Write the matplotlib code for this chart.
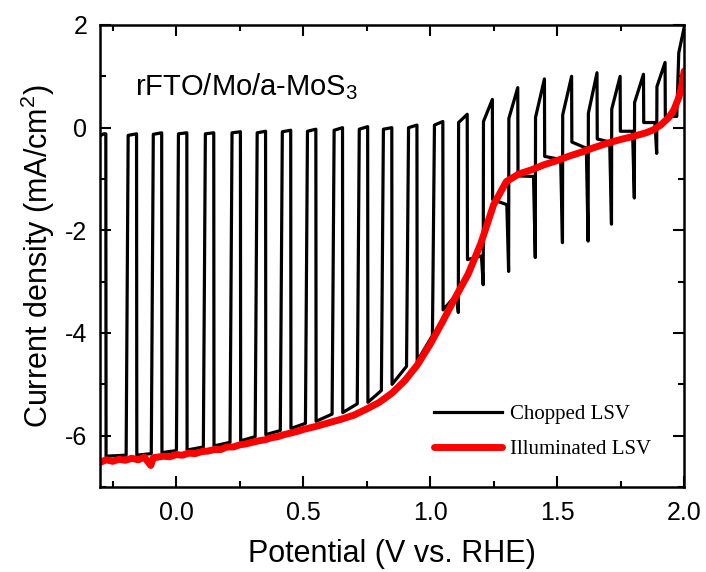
import matplotlib
matplotlib.use("Agg")
import matplotlib.pyplot as plt
from matplotlib.ticker import MultipleLocator, FormatStrFormatter

plt.rcParams['font.family'] = ['Liberation Sans', 'DejaVu Sans']
plt.rcParams['mathtext.fontset'] = 'custom'
plt.rcParams['mathtext.rm'] = 'Liberation Sans'
plt.rcParams['mathtext.it'] = 'Liberation Sans:italic'
plt.rcParams['axes.unicode_minus'] = False

# illuminated LSV (continuous light)
illum_v = [-0.30, -0.275, -0.25, -0.225, -0.20, -0.175, -0.15, -0.125, -0.10, -0.09,
           -0.075, -0.05, -0.025, 0.0, 0.025, 0.05, 0.075, 0.10, 0.125, 0.15,
           0.175, 0.20, 0.225, 0.25, 0.275, 0.30, 0.325, 0.35, 0.375, 0.40,
           0.425, 0.45, 0.475, 0.50, 0.55, 0.60, 0.65, 0.70, 0.75, 0.80,
           0.85, 0.90, 0.95, 1.00, 1.05, 1.10, 1.15, 1.20, 1.25, 1.30,
           1.35, 1.40, 1.45, 1.50, 1.55, 1.60, 1.65, 1.70, 1.75, 1.80,
           1.85, 1.88, 1.91, 1.94, 1.96, 1.98, 1.99, 2.00]
illum_j = [-6.52, -6.47, -6.50, -6.46, -6.48, -6.44, -6.47, -6.42, -6.58, -6.43,
           -6.42, -6.40, -6.41, -6.37, -6.38, -6.34, -6.35, -6.31, -6.30, -6.27,
           -6.27, -6.22, -6.22, -6.18, -6.16, -6.13, -6.10, -6.08, -6.04, -6.02,
           -5.98, -5.95, -5.92, -5.88, -5.82, -5.75, -5.68, -5.60, -5.48, -5.35,
           -5.17, -4.93, -4.62, -4.22, -3.77, -3.30, -2.85, -2.25, -1.50, -1.05,
           -0.90, -0.82, -0.72, -0.64, -0.55, -0.47, -0.38, -0.30, -0.23, -0.17,
           -0.10, -0.04, 0.06, 0.20, 0.35, 0.60, 0.80, 1.10]

# chopped LSV, one entry per dark pulse (light off -> light on)
pulse_off_v = [-0.189, -0.090, 0.009, 0.115, 0.220, 0.319, 0.418, 0.517, 0.622, 0.721,
               0.816, 0.915, 1.017, 1.112, 1.210, 1.310, 1.415, 1.522, 1.623, 1.715,
               1.805, 1.893, 1.979]
pulse_on_v = [-0.156, -0.057, 0.042, 0.148, 0.253, 0.352, 0.451, 0.550, 0.655, 0.754,
              0.849, 0.948, 1.050, 1.146, 1.245, 1.345, 1.450, 1.557, 1.657, 1.748,
              1.840, 1.925, 2.000]
dark_start_j = [-0.15, -0.13, -0.12, -0.12, -0.10, -0.10, -0.08, -0.07, -0.05, -0.03,
                -0.03, 0.00, 0.05, 0.10, 0.12, 0.18, 0.20, 0.25, 0.28, 0.36,
                0.49, 0.80, 1.46]
dark_end_j = [-0.12, -0.10, -0.10, -0.10, -0.08, -0.07, -0.05, -0.03, 0.00, 0.02,
              0.00, 0.05, 0.12, 0.26, 0.55, 0.78, 0.95, 1.00, 1.07, 1.00,
              1.04, 1.27, 1.95]
# light level at the end of the light period before each pulse
light_before_j = [-6.38, -6.35, -6.29, -6.22, -6.13, -6.02, -5.90, -5.76, -5.58, -5.38,
                  -5.12, -4.65, -4.05, -3.25, -2.50, -1.50, -0.95, -0.62, -0.40, -0.28,
                  -0.07, 0.10, 0.22]
# light level right after each pulse (light switched on)
light_after_j = [-6.38, -6.33, -6.28, -6.20, -6.10, -5.98, -5.86, -5.72, -5.55, -5.35,
                 -5.00, -4.55, -3.55, -2.57, -1.40, -0.94, -0.56, -0.28, -0.22, -0.07,
                 0.10, 0.22, 1.95]
# cathodic transient just before light off (None = no spike)
spike_j = [None, None, None, None, None, None, None, None, None, None,
           None, None, None, -3.60, -3.06, -2.80, -2.53, -2.24, -2.21, -1.88,
           -1.37, -0.50, None]

# first (partial) dark period at the start of the scan
start_v = [-0.300, -0.285, -0.277]
start_j = [-0.16, -0.12, -0.12]
start_light_j = -6.40

chop_v = list(start_v) + [start_v[-1] + 0.001]
chop_j = list(start_j) + [start_light_j]
for k in range(len(pulse_off_v)):
    chop_v.append(pulse_off_v[k] - 0.008)
    chop_j.append(light_before_j[k])
    if spike_j[k] is not None:
        chop_v.append(pulse_off_v[k] - 0.001)
        chop_j.append(spike_j[k])
    chop_v.append(pulse_off_v[k])
    chop_j.append(dark_start_j[k])
    chop_v.append(pulse_on_v[k])
    chop_j.append(dark_end_j[k])
    if k < len(pulse_off_v) - 1:
        chop_v.append(pulse_on_v[k] + 0.001)
        chop_j.append(light_after_j[k])

fig = plt.figure(figsize=(7.06, 5.72), dpi=100)
ax = fig.add_axes([0.1416, 0.1486, 0.8274, 0.8077])

ax.plot(chop_v, chop_j, color='black', lw=2.3, solid_joinstyle='round',
        label='Chopped LSV')
ax.plot(illum_v, illum_j, color='#ff0000', lw=5.0, solid_joinstyle='round',
        solid_capstyle='round', label='Illuminated LSV')

ax.set_xlim(-0.3, 2.0)
ax.set_ylim(-7, 2)
ax.xaxis.set_major_locator(MultipleLocator(0.5))
ax.xaxis.set_minor_locator(MultipleLocator(0.25))
ax.yaxis.set_major_locator(MultipleLocator(2))
ax.yaxis.set_minor_locator(MultipleLocator(1))
ax.xaxis.set_major_formatter(FormatStrFormatter('%.1f'))
ax.tick_params(which='both', direction='in', top=True, right=True, width=1.5,
               labelsize=18)
ax.tick_params(axis='x', pad=10)
ax.tick_params(axis='y', pad=9)
ax.tick_params(which='major', length=8)
ax.tick_params(which='minor', length=4.5)
for sp in ax.spines.values():
    sp.set_linewidth(1.8)

ax.set_xlabel('Potential (V vs. RHE)', fontsize=22, labelpad=10)
ax.set_ylabel('Current density (mA/cm$^2$)', fontsize=22, labelpad=6)

ax.text(0.06, 0.848, 'rFTO/Mo/a-MoS$_3$', transform=ax.transAxes, fontsize=21)

ax.legend(loc='lower right', bbox_to_anchor=(0.975, 0.02), frameon=False,
          prop={'family': 'Liberation Serif', 'size': 15}, handlelength=3.3,
          handletextpad=0.35, labelspacing=0.75)

fig.savefig('out.png', dpi=100)
